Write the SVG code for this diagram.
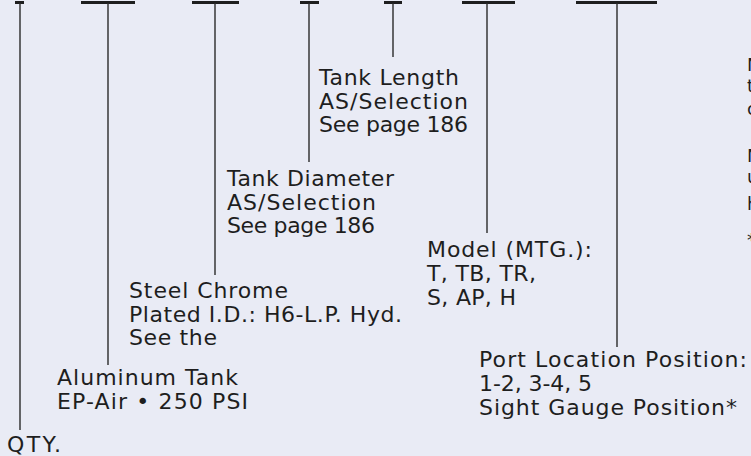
<svg xmlns="http://www.w3.org/2000/svg" width="751" height="456" viewBox="0 0 751 456">
<style>
.bg{fill:#e9ebf5}
.bar{stroke:#1e1e1e;stroke-width:3;fill:none}
.lead{stroke:#2a2a2a;stroke-width:1.4;fill:none}
text{font-family:"DejaVu Sans","Liberation Sans",sans-serif;font-size:22px;fill:#1e1e1e}
.edge{font-size:18px}
</style>
<rect class="bg" x="0" y="0" width="751" height="456"/>
<g id="connectors">
<line class="bar" x1="15" y1="2.5" x2="24" y2="2.5"/>
<line class="bar" x1="81" y1="2.5" x2="135" y2="2.5"/>
<line class="bar" x1="192" y1="2.5" x2="239" y2="2.5"/>
<line class="bar" x1="300" y1="2.5" x2="319" y2="2.5"/>
<line class="bar" x1="384" y1="2.5" x2="402" y2="2.5"/>
<line class="bar" x1="462" y1="2.5" x2="515" y2="2.5"/>
<line class="bar" x1="576" y1="2.5" x2="657" y2="2.5"/>
<line class="lead" x1="20" y1="3" x2="20" y2="430"/>
<line class="lead" x1="108" y1="3" x2="108" y2="365"/>
<line class="lead" x1="215" y1="3" x2="215" y2="275"/>
<line class="lead" x1="309" y1="3" x2="309" y2="162"/>
<line class="lead" x1="393" y1="3" x2="393" y2="57"/>
<line class="lead" x1="487" y1="3" x2="487" y2="233"/>
<line class="lead" x1="617" y1="3" x2="617" y2="347"/>
</g>
<g id="tank-length">
<text x="319" y="85" textLength="140" lengthAdjust="spacing">Tank Length</text>
<text x="319" y="108.5" textLength="149" lengthAdjust="spacing">AS/Selection</text>
<text x="319" y="132" textLength="149" lengthAdjust="spacing">See page 186</text>
</g>
<g id="tank-diameter">
<text x="227" y="186" textLength="167" lengthAdjust="spacing">Tank Diameter</text>
<text x="227" y="209.5" textLength="149" lengthAdjust="spacing">AS/Selection</text>
<text x="227" y="233" textLength="148" lengthAdjust="spacing">See page 186</text>
</g>
<g id="model">
<text x="427" y="257" textLength="165" lengthAdjust="spacing">Model (MTG.):</text>
<text x="427" y="281" textLength="109" lengthAdjust="spacing">T, TB, TR,</text>
<text x="427" y="305" textLength="89" lengthAdjust="spacing">S, AP, H</text>
</g>
<g id="steel-chrome">
<text x="129" y="298" textLength="159" lengthAdjust="spacing">Steel Chrome</text>
<text x="129" y="322" textLength="273" lengthAdjust="spacing">Plated I.D.: H6-L.P. Hyd.</text>
<text x="129" y="345" textLength="88" lengthAdjust="spacing">See the</text>
</g>
<g id="aluminum-tank">
<text x="57" y="385" textLength="181" lengthAdjust="spacing">Aluminum Tank</text>
<text x="57" y="409" textLength="191" lengthAdjust="spacing">EP-Air • 250 PSI</text>
</g>
<g id="qty">
<text x="7" y="452" textLength="54" lengthAdjust="spacing">QTY.</text>
</g>
<g id="port-location">
<text x="479" y="367" textLength="268" lengthAdjust="spacing">Port Location Position:</text>
<text x="479" y="390.5" textLength="113" lengthAdjust="spacing">1-2, 3-4, 5</text>
<text x="479" y="415" textLength="258" lengthAdjust="spacing">Sight Gauge Position*</text>
</g>
<g id="note">
<text class="edge" x="747" y="71">N</text>
<text class="edge" x="747" y="92">t</text>
<text class="edge" x="747" y="115">c</text>
<text class="edge" x="747" y="162">N</text>
<text class="edge" x="747" y="183">u</text>
<text class="edge" x="747" y="210">h</text>
<text class="edge" x="747" y="246">*</text>
</g>
</svg>
